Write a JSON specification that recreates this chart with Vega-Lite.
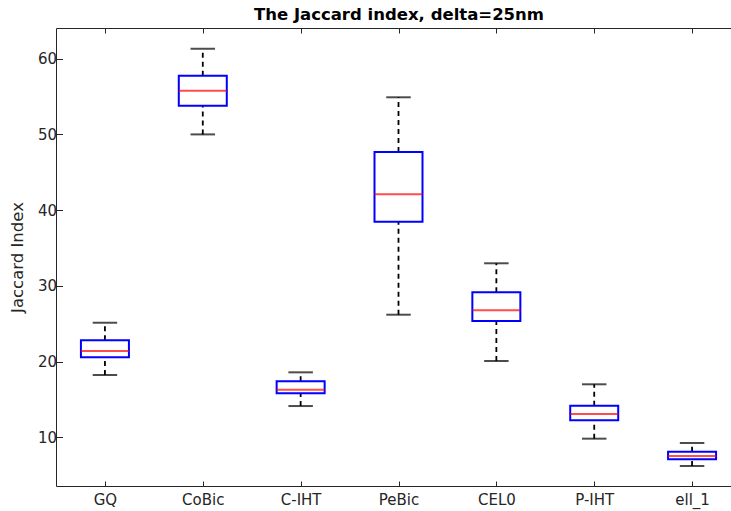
{
  "$schema": "https://vega.github.io/schema/vega-lite/v6.json",
  "width": 675,
  "height": 458,
  "autosize": {"type": "none"},
  "padding": {"left": 56, "top": 28, "right": 0, "bottom": 25},
  "background": "white",
  "title": {
    "text": "The Jaccard index, delta=25nm",
    "font": "DejaVu Sans",
    "fontSize": 16.5,
    "fontWeight": "bold",
    "color": "#000000",
    "anchor": "middle",
    "frame": "group",
    "dx": 5.5,
    "offset": 4
  },
  "data": {
    "values": [
      {"method": "GQ", "lo": 18.23, "q1": 20.56, "med": 21.4, "q3": 22.81, "hi": 25.13},
      {"method": "CoBic", "lo": 50.0, "q1": 53.79, "med": 55.77, "q3": 57.75, "hi": 61.31},
      {"method": "C-IHT", "lo": 14.13, "q1": 15.81, "med": 16.29, "q3": 17.39, "hi": 18.58},
      {"method": "PeBic", "lo": 26.19, "q1": 38.47, "med": 42.09, "q3": 47.67, "hi": 54.9},
      {"method": "CEL0", "lo": 20.08, "q1": 25.36, "med": 26.77, "q3": 29.15, "hi": 32.98},
      {"method": "P-IHT", "lo": 9.82, "q1": 12.24, "med": 13.08, "q3": 14.17, "hi": 17.0},
      {"method": "ell_1", "lo": 6.21, "q1": 7.09, "med": 7.53, "q3": 8.1, "hi": 9.25}
    ]
  },
  "config": {
    "view": {"stroke": null},
    "axis": {
      "domainColor": "#262626",
      "domainWidth": 1,
      "tickColor": "#262626",
      "tickWidth": 1,
      "labelColor": "#262626",
      "labelFont": "DejaVu Sans",
      "labelFontSize": 15,
      "titleFont": "DejaVu Sans",
      "titleFontSize": 16.5,
      "titleFontWeight": "normal",
      "titleColor": "#262626",
      "grid": false
    }
  },
  "resolve": {"axis": {"x": "independent"}},
  "layer": [
    {
      "mark": {"type": "rule", "color": "black", "strokeWidth": 1.8, "strokeDash": [5, 4]},
      "encoding": {
        "x": {
          "field": "method", "type": "nominal", "sort": null,
          "scale": {"type": "point", "padding": 0.5, "range": [0, 685]},
          "axis": {"title": null, "labelAngle": 0, "tickSize": -5, "labelPadding": 11}
        },
        "y": {
          "field": "q3", "type": "quantitative",
          "scale": {"domain": [3.57, 64.05], "nice": false, "zero": false},
          "axis": {"title": "Jaccard Index", "values": [10, 20, 30, 40, 50, 60], "tickSize": -6.5, "labelPadding": 6, "titlePadding": 12}
        },
        "y2": {"field": "hi"}
      }
    },
    {
      "mark": {"type": "rule", "color": "black", "strokeWidth": 1.8, "strokeDash": [5, 4]},
      "encoding": {
        "x": {"field": "method", "type": "nominal", "sort": null, "axis": null},
        "y": {"field": "lo", "type": "quantitative"},
        "y2": {"field": "q1"}
      }
    },
    {
      "mark": {"type": "tick", "color": "black", "size": 24.5, "thickness": 2},
      "encoding": {
        "x": {"field": "method", "type": "nominal", "sort": null, "axis": null},
        "y": {"field": "hi", "type": "quantitative"}
      }
    },
    {
      "mark": {"type": "tick", "color": "black", "size": 24.5, "thickness": 2},
      "encoding": {
        "x": {"field": "method", "type": "nominal", "sort": null, "axis": null},
        "y": {"field": "lo", "type": "quantitative"}
      }
    },
    {
      "mark": {"type": "bar", "size": 48, "fill": "white", "fillOpacity": 0, "stroke": "#0000ff", "strokeWidth": 2},
      "encoding": {
        "x": {"field": "method", "type": "nominal", "sort": null, "axis": null},
        "y": {"field": "q1", "type": "quantitative"},
        "y2": {"field": "q3"}
      }
    },
    {
      "mark": {"type": "tick", "color": "#ff0000", "size": 48, "thickness": 2},
      "encoding": {
        "x": {
          "field": "method", "type": "nominal", "sort": null,
          "axis": {"orient": "top", "title": null, "labels": false, "tickSize": -5}
        },
        "y": {"field": "med", "type": "quantitative"}
      }
    }
  ]
}
